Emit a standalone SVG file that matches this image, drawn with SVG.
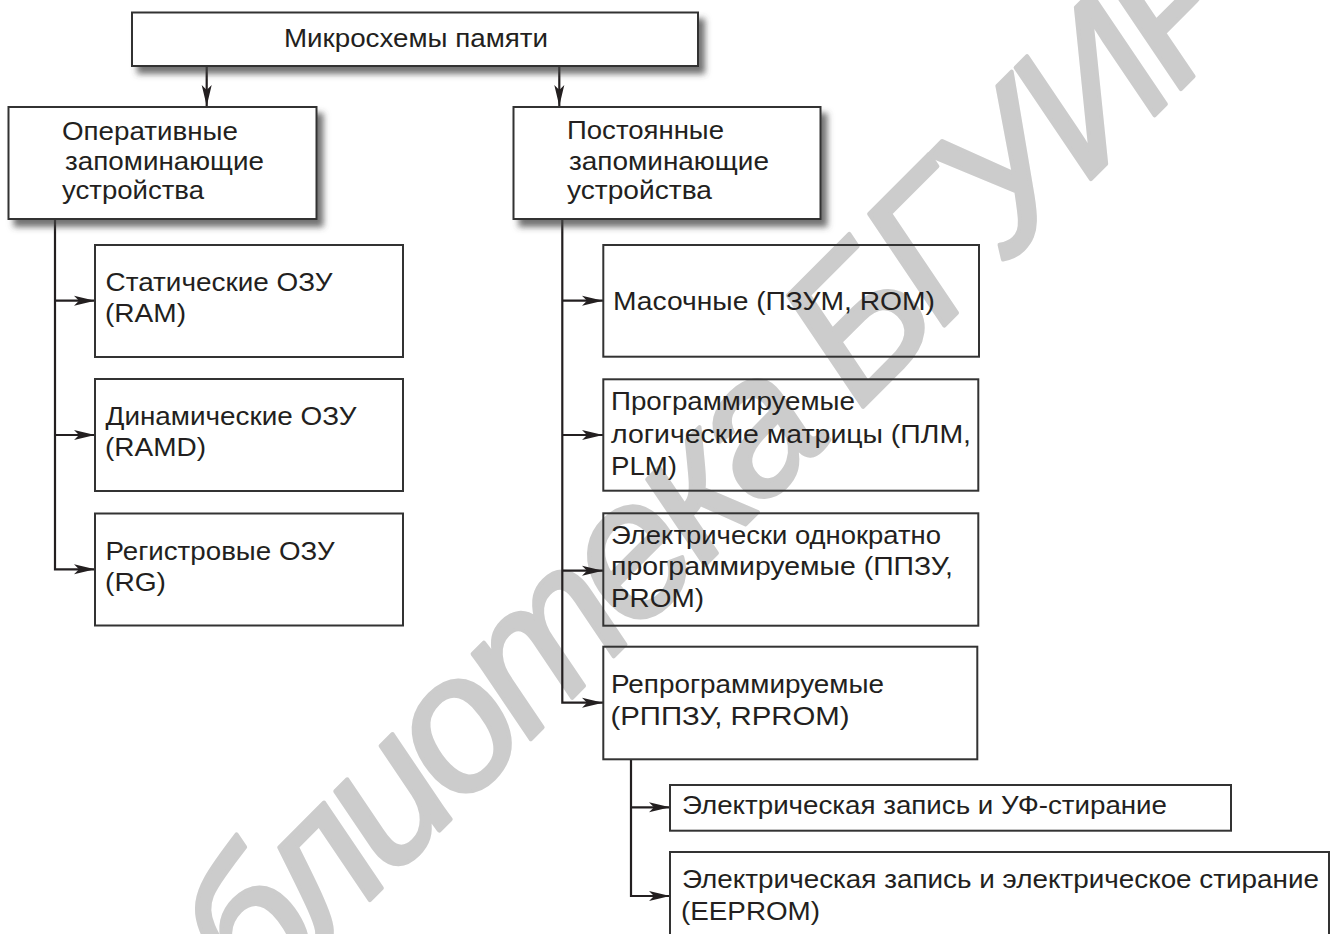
<svg xmlns="http://www.w3.org/2000/svg" width="1332" height="934" viewBox="0 0 1332 934">
<style>
.t{font-family:"Liberation Sans",Arial,sans-serif;font-size:26px;fill:#231f20}
.ttl{font-size:25px}
.box{fill:none;stroke:#333;stroke-width:2}
.sbox{fill:#fff;stroke:#333;stroke-width:2;filter:url(#sh)}
.ln{fill:none;stroke:#231f20;stroke-width:2.2}
.ar{marker-end:url(#ah)}
.wm{font-family:"Liberation Sans",Arial,sans-serif;font-size:192px;font-style:italic;fill:#cccccc;stroke:#cccccc;stroke-width:4;stroke-linejoin:round;letter-spacing:-10px}
</style>
<defs>
<filter id="sh" x="-10%" y="-20%" width="130%" height="150%">
<feDropShadow dx="6" dy="7" stdDeviation="3" flood-color="#444" flood-opacity="0.75"/>
</filter>
<marker id="ah" markerUnits="userSpaceOnUse" markerWidth="22" markerHeight="11" refX="21" refY="5" orient="auto" overflow="visible">
<path d="M0,0 L21,5 L0,10 L5,5 z" fill="#231f20"/>
</marker>
</defs>
<rect width="1332" height="934" fill="#fff"/>
<g id="watermark">
<text class="wm" transform="translate(118,1152) rotate(-45)">библиотека БГУИР</text>
</g>
<g id="connectors">
<path class="ln ar" d="M206.7,66 V106"/>
<path class="ln ar" d="M559.3,66 V106"/>
<path class="ln ar" d="M55,219 V569.3 H95"/>
<path class="ln ar" d="M55,300.7 H95"/>
<path class="ln ar" d="M55,435 H95"/>
<path class="ln ar" d="M562.3,219 V702.7 H603"/>
<path class="ln ar" d="M562.3,300.7 H603"/>
<path class="ln ar" d="M562.3,435 H603"/>
<path class="ln ar" d="M562.3,570.7 H603"/>
<path class="ln ar" d="M631,759.3 V896 H670"/>
<path class="ln ar" d="M631,807.3 H670"/>
</g>
<g id="root">
<rect class="sbox" x="132" y="12.5" width="566" height="53.5"/>
<text class="t ttl" x="284" y="47" textLength="264" lengthAdjust="spacingAndGlyphs">Микросхемы памяти</text>
</g>
<g id="ozu">
<rect class="sbox" x="8.5" y="107" width="308" height="112"/>
<text class="t" x="62" y="140" textLength="176" lengthAdjust="spacingAndGlyphs">Оперативные</text>
<text class="t" x="65" y="170" textLength="199" lengthAdjust="spacingAndGlyphs">запоминающие</text>
<text class="t" x="62" y="199" textLength="142" lengthAdjust="spacingAndGlyphs">устройства</text>
</g>
<g id="pzu">
<rect class="sbox" x="513.5" y="107" width="307" height="112"/>
<text class="t" x="567" y="139" textLength="157" lengthAdjust="spacingAndGlyphs">Постоянные</text>
<text class="t" x="569" y="170" textLength="200" lengthAdjust="spacingAndGlyphs">запоминающие</text>
<text class="t" x="567" y="199" textLength="145" lengthAdjust="spacingAndGlyphs">устройства</text>
</g>
<g id="ram">
<rect class="box" x="95" y="245" width="308" height="112"/>
<text class="t" x="105.5" y="291" textLength="227" lengthAdjust="spacingAndGlyphs">Статические ОЗУ</text>
<text class="t" x="105" y="322" textLength="81" lengthAdjust="spacingAndGlyphs">(RAM)</text>
</g>
<g id="ramd">
<rect class="box" x="95" y="379" width="308" height="112"/>
<text class="t" x="105.5" y="425" textLength="251" lengthAdjust="spacingAndGlyphs">Динамические ОЗУ</text>
<text class="t" x="105" y="456" textLength="101" lengthAdjust="spacingAndGlyphs">(RAMD)</text>
</g>
<g id="rg">
<rect class="box" x="95" y="513.5" width="308" height="112"/>
<text class="t" x="105.5" y="559.5" textLength="229" lengthAdjust="spacingAndGlyphs">Регистровые ОЗУ</text>
<text class="t" x="105" y="591" textLength="61" lengthAdjust="spacingAndGlyphs">(RG)</text>
</g>
<g id="rom">
<rect class="box" x="603.3" y="245" width="375.7" height="111.7"/>
<text class="t" x="613" y="310" textLength="322" lengthAdjust="spacingAndGlyphs">Масочные (ПЗУМ, ROM)</text>
</g>
<g id="plm">
<rect class="box" x="603.3" y="379.3" width="375" height="111.4"/>
<text class="t" x="611" y="410" textLength="244" lengthAdjust="spacingAndGlyphs">Программируемые</text>
<text class="t" x="611" y="443" textLength="360" lengthAdjust="spacingAndGlyphs">логические матрицы (ПЛМ,</text>
<text class="t" x="611" y="475" textLength="66" lengthAdjust="spacingAndGlyphs">PLM)</text>
</g>
<g id="prom">
<rect class="box" x="603.3" y="513.3" width="375" height="112.4"/>
<text class="t" x="611" y="544" textLength="330" lengthAdjust="spacingAndGlyphs">Электрически однократно</text>
<text class="t" x="611" y="575" textLength="342" lengthAdjust="spacingAndGlyphs">программируемые (ППЗУ,</text>
<text class="t" x="611" y="606.5" textLength="93" lengthAdjust="spacingAndGlyphs">PROM)</text>
</g>
<g id="rprom">
<rect class="box" x="603.3" y="646.7" width="374" height="112.6"/>
<text class="t" x="611" y="693" textLength="273" lengthAdjust="spacingAndGlyphs">Репрограммируемые</text>
<text class="t" x="610.5" y="725" textLength="239" lengthAdjust="spacingAndGlyphs">(РППЗУ, RPROM)</text>
</g>
<g id="uv">
<rect class="box" x="670" y="785" width="561" height="45.7"/>
<text class="t" x="682" y="814" textLength="485" lengthAdjust="spacingAndGlyphs">Электрическая запись и УФ-стирание</text>
</g>
<g id="eeprom">
<rect class="box" x="670" y="852" width="659" height="100"/>
<text class="t" x="682" y="888" textLength="637" lengthAdjust="spacingAndGlyphs">Электрическая запись и электрическое стирание</text>
<text class="t" x="681" y="920" textLength="139" lengthAdjust="spacingAndGlyphs">(EEPROM)</text>
</g>
</svg>
